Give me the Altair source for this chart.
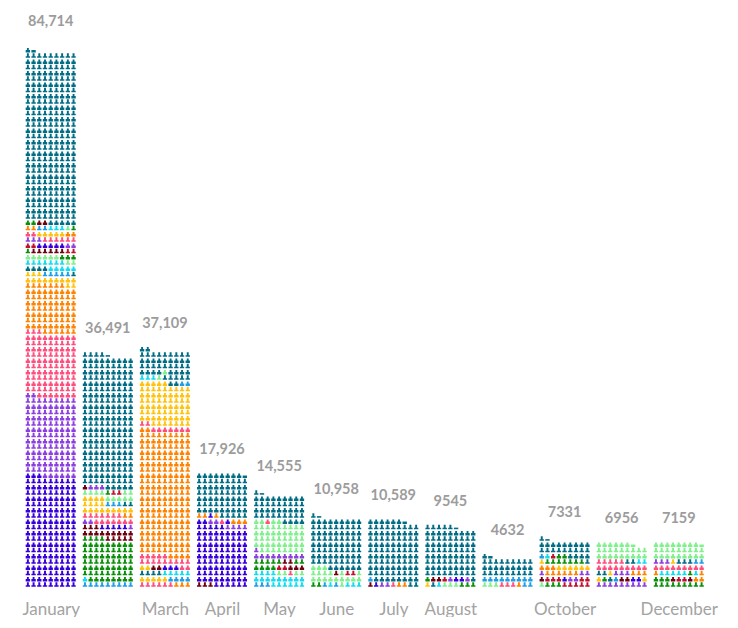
import altair as alt
import pandas as pd

MONTHS = ["January","February","March","April","May","June","July","August","September","October","November","December"]
TOTAL_LABELS = ["84,714","36,491","37,109","17,926","14,555","10,958","10,589","9545","4632","7331","6956","7159"]
SHOWN = [0,2,3,4,5,6,7,9,11]

KEYS = ["teal","blue","purple","pink","orange","yellow","sky","cyan","mint","green","darkred","red"]
COLORS = ["#006d85","#3600dc","#8b3fe0","#ff4e7d","#ff8200","#ffc20e","#1f9ee8","#14dcf0","#7ff08c","#0a8f0a","#6e0010","#c01030"]

# stacks, bottom to top: (category, units of 100)
JAN = [("blue",174),("purple",125),("pink",100),("orange",76),("yellow",14),("sky",5),("teal",5),("cyan",12),("mint",8),("green",4),("darkred",6),("red",4),("blue",5),("purple",5),("pink",8),("yellow",5),("orange",4),("sky",2),("cyan",3),("mint",1),("green",3),("darkred",2),("teal",267)]
FEB = [("sky",9),("cyan",1),("green",66),("darkred",17),("blue",5),("purple",3),("pink",14),("orange",2),("yellow",13),("sky",3),("teal",2),("yellow",4),("mint",9),("green",1),("red",2),("mint",2),("darkred",1),("purple",3),("teal",207)]
MAR = [("pink",6),("orange",3),("yellow",5),("sky",4),("teal",4),("cyan",5),("yellow",2),("darkred",2),("blue",3),("pink",16),("orange",195),("pink",9),("yellow",66),("teal",2),("sky",2),("cyan",3),("mint",1),("teal",9),("mint",1),("teal",33)]
APR = [("darkred",3),("blue",92),("purple",4),("blue",2),("purple",2),("pink",1),("blue",1),("orange",5),("blue",1),("orange",1),("teal",67)]
MAY = [("sky",3),("cyan",15),("cyan",4),("mint",2),("pink",1),("mint",2),("green",4),("red",2),("darkred",3),("green",5),("darkred",2),("green",2),("purple",10),("mint",46),("pink",1),("mint",2),("teal",41)]
JUN = [("green",2),("sky",1),("cyan",1),("sky",1),("mint",1),("cyan",3),("mint",13),("darkred",1),("mint",1),("red",2),("mint",4),("teal",79)]
JUL = [("darkred",1),("blue",1),("purple",2),("pink",1),("orange",2),("teal",2),("sky",1),("teal",95)]
AUG = [("yellow",1),("teal",1),("cyan",1),("mint",3),("green",4),("darkred",2),("red",1),("purple",1),("blue",2),("purple",1),("teal",78)]
SEP = [("mint",3),("pink",3),("orange",1),("sky",11),("teal",28)]
OCT = [("mint",1),("green",3),("red",5),("darkred",1),("red",3),("blue",1),("purple",2),("red",2),("purple",1),("orange",6),("purple",2),("orange",3),("yellow",7),("green",7),("teal",1),("sky",1),("cyan",1),("red",1),("green",2),("teal",23)]
NOV = [("purple",9),("yellow",1),("green",1),("teal",1),("sky",1),("darkred",2),("blue",2),("yellow",1),("teal",2),("yellow",1),("purple",3),("orange",3),("pink",14),("teal",2),("cyan",2),("mint",24)]
DEC = [("green",12),("darkred",1),("red",2),("darkred",1),("orange",3),("cyan",5),("green",1),("cyan",1),("orange",1),("pink",9),("purple",3),("yellow",1),("teal",3),("sky",2),("mint",26)]
STACKS = [JAN,FEB,MAR,APR,MAY,JUN,JUL,AUG,SEP,OCT,NOV,DEC]
# whether the stack ends in a partly drawn figure
PARTIAL = [True,True,False,True,True,True,True,True,True,True,True,True]
LABEL_NUDGE = [0.35,0,0,0,0,0,0,0,0,0,0,0]

PER_ROW = 9
rows = []
tops = []
for m, (stack, partial) in enumerate(zip(STACKS, PARTIAL)):
    i = 0
    for key, n in stack:
        for _ in range(n):
            r, c = divmod(i, PER_ROW)
            rows.append({"x": m + (c - 4) * 0.1, "y": r + 0.5, "part": "upper" if r % 2 else "lower", "key": key})
            i += 1
    tops.append((i - 1) // PER_ROW + 1 + LABEL_NUDGE[m])
    if partial:
        r, c = divmod(i, PER_ROW)
        rows.append({"x": m + (c - 4) * 0.1, "y": r + 0.5, "part": "upper_bar" if r % 2 else "lower_bar", "key": stack[-1][0]})
cells = pd.DataFrame(rows)

totals = pd.DataFrame({"x": list(range(12)), "y": tops, "label": TOTAL_LABELS})

UPPER = "M-0.33,-0.85H0.33V-0.12H-0.33ZM-0.76,-0.12H0.76V0.75H-0.76Z"
LOWER = "M-0.34,-1H0.34V0H-0.34ZM-0.76,0H0.76V0.55H-0.76Z"
UPPER_BAR = "M-0.76,-0.12H0.76V0.75H-0.76Z"
LOWER_BAR = "M-0.76,0H0.76V0.55H-0.76Z"

xs = alt.Scale(domain=[-0.748, 11.897], nice=False, zero=False)
ys = alt.Scale(domain=[0, 100.87], nice=False, zero=False)
label_expr = "[" + ",".join(f"'{m}'" for m in MONTHS) + "][datum.value]"

people = alt.Chart(cells).mark_point(filled=True, opacity=1, size=33, strokeWidth=0).encode(
    x=alt.X("x:Q", scale=xs, axis=alt.Axis(values=SHOWN, labelExpr=label_expr, title=None, grid=False, ticks=False,
                                           domain=False, labelFont="Lato", labelFontSize=17, labelColor="#a3a3a3",
                                           labelPadding=13, labelOverlap=False, labelFlush=False, labelAngle=0)),
    y=alt.Y("y:Q", scale=ys, axis=None),
    color=alt.Color("key:N", scale=alt.Scale(domain=KEYS, range=COLORS), legend=None),
    shape=alt.Shape("part:N", scale=alt.Scale(domain=["upper", "lower", "upper_bar", "lower_bar"],
                                              range=[UPPER, LOWER, UPPER_BAR, LOWER_BAR]), legend=None),
)

text = alt.Chart(totals).mark_text(font="Lato", fontSize=14.5, fontWeight="bold", color="#9c9c9c", dy=-23, baseline="middle").encode(
    x=alt.X("x:Q", scale=xs),
    y=alt.Y("y:Q", scale=ys),
    text="label:N",
)

chart = (people + text).properties(width=722, height=580, padding=0, background="white").configure_view(strokeWidth=0)
chart.save("out.html", embed_options={"renderer": "svg", "actions": False})
